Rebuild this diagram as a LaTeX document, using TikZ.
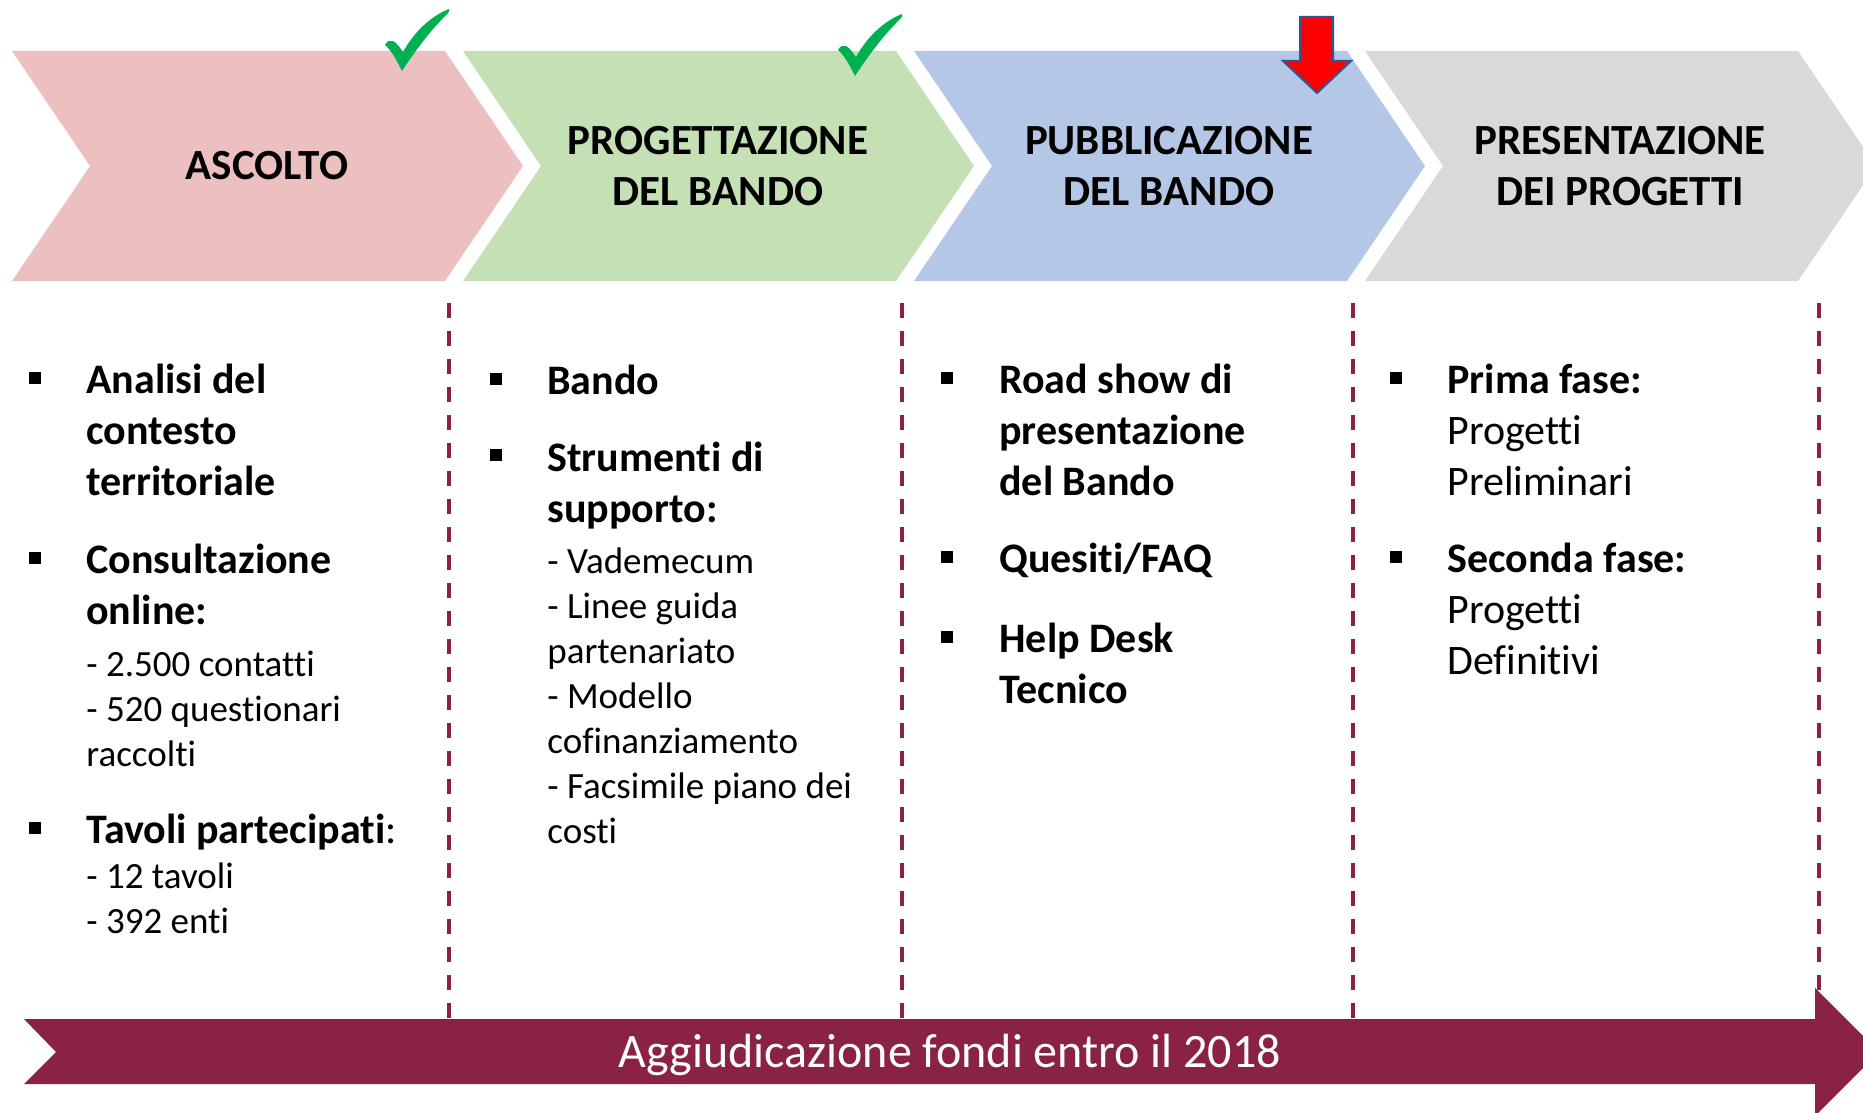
\documentclass[tikz,border=0pt]{standalone}
\usepackage{fontspec}
\setmainfont{Carlito}[Ligatures={NoCommon,NoContextual},Contextuals=NoAlternate]
\usepackage{tikz}
\usetikzlibrary{positioning,calc}
\definecolor{rosa}{HTML}{ECBFC1}
\definecolor{verde}{HTML}{C5E0B4}
\definecolor{azzurro}{HTML}{B4C7E7}
\definecolor{grigio}{HTML}{D9D9D9}
\definecolor{bordeaux}{HTML}{8A2244}
\definecolor{spunta}{HTML}{00B050}
\definecolor{blubordo}{HTML}{2F5597}
\tikzstyle{titolo}=[font=\fontsize{21.5}{25.5}\selectfont\bfseries,
                    align=center, inner sep=0pt]
\tikzstyle{voce}  =[font=\fontsize{21}{25.5}\selectfont, align=left,
                    inner sep=0pt, anchor=base west]
\tikzstyle{sotto} =[font=\fontsize{18.5}{22.5}\selectfont, align=left,
                    inner sep=0pt, anchor=base west]
\tikzstyle{quadro}=[fill=black, minimum size=6pt, inner sep=0pt]
\tikzstyle{divisore}=[draw=bordeaux, line width=1.65pt,
                    dash pattern=on 7.5pt off 6.5pt]
\tikzset{check/.pic={
    \fill[spunta] (-14,-25) .. controls (-12,-29) and (-9,-30) .. (-6,-29)
        .. controls (-2,-27) and (1,-22) .. (4,-18)
        .. controls (15,-38) and (32,-54) .. (50,-61)
        .. controls (51,-60) and (50,-58) .. (49,-57)
        .. controls (36,-44) and (22,-28) .. (3,1)
        .. controls (-2,-9) and (-7,-19) .. (-14,-25) -- cycle;}}

\begin{document}
\begin{tikzpicture}[x=0.5pt, y=-0.5pt]
            \clip (0,0) rectangle (1863,1113);
            \fill[white] (0,0) rectangle (1863,1113);
            % fasi
            \foreach \i/\col in {0/rosa,1/verde,2/azzurro,3/grigio}
                \fill[\col] ({12+451*\i},51) -- ++(433,0) -- ++(78,115)
                    -- ++(-78,115) -- ++(-433,0) -- ++(78,-115) -- cycle;
            \node[titolo] (asc) at (267,166) {ASCOLTO};
            \node[titolo] (prog) at (718,166) {PROGETTAZIONE\\DEL BANDO};
            \node[titolo] (pubb) at (1169,166) {PUBBLICAZIONE\\DEL BANDO};
            \node[titolo] (pres) at (1620,166) {PRESENTAZIONE\\DEI PROGETTI};
            \pic at (399,70) {check};
            \pic at (852,75) {check};
            \filldraw[fill=red, draw=blubordo, line width=1pt]
                (1300,17) -- (1333,17) -- (1333,61) -- (1351,61) -- (1317,93)
                -- (1283,61) -- (1300,61) -- cycle;

            % colonna 1 (nodes sit on their last baseline)
            \node[quadro] (q1) at (34.5,378) {};
            \node[voce] (analisi) at (86,495)
                {\textbf{Analisi del}\\\textbf{contesto}\\\textbf{territoriale}};
            \node[quadro] (q2) at (34.5,558) {};
            \node[voce] (consult) at (86,624)
                {\textbf{Consultazione}\\\textbf{online:}};
            \node[sotto] (contatti) at (86,766)
                {- 2.500 contatti\\- 520 questionari\\raccolti};
            \node[quadro] (q3) at (34.5,828) {};
            \node[voce] (tavoli) at (86,843) {\textbf{Tavoli partecipati}:};
            \node[sotto] (enti) at (86,933) {- 12 tavoli\\- 392 enti};

            % colonna 2
            \node[quadro] (q4) at (496,379) {};
            \node[voce] (bando) at (547,394) {\textbf{Bando}};
            \node[quadro] (q5) at (496,455) {};
            \node[voce] (strum) at (547,522)
                {\textbf{Strumenti di}\\\textbf{supporto:}};
            \node[sotto] (vade) at (547,843)
                {- Vademecum\\- Linee guida\\partenariato\\- Modello\\
                 cofinanziamento\\- Facsimile piano dei\\costi};

            % colonna 3
            \node[quadro] (q6) at (947,378) {};
            \node[voce] (road) at (999,495)
                {\textbf{Road show di}\\\textbf{presentazione}\\\textbf{del Bando}};
            \node[quadro] (q7) at (947,557) {};
            \node[voce] (faq) at (999,572) {\textbf{Quesiti/FAQ}};
            \node[quadro] (q8) at (947,637) {};
            \node[voce] (help) at (999,703)
                {\textbf{Help Desk}\\\textbf{Tecnico}};

            % colonna 4
            \node[quadro] (q9) at (1396,378) {};
            \node[voce] (prima) at (1447,495)
                {\textbf{Prima fase:}\\Progetti\\Preliminari};
            \node[quadro] (q10) at (1396,557) {};
            \node[voce] (seconda) at (1447,674)
                {\textbf{Seconda fase:}\\Progetti\\Definitivi};

            % divisori
            \foreach \x in {449,902,1353,1819}
                \draw[divisore] (\x,303) -- (\x,1019);

            % freccia finale
            \fill[bordeaux] (24,1019) -- (1815,1019) -- (1815,988) -- (1879,1052)
                -- (1815,1116) -- (1815,1084) -- (24,1084) -- (56,1052) -- cycle;
            \node[font=\fontsize{24}{28}\selectfont, text=white, inner sep=0pt,
                anchor=base] (fondi) at (950,1067)
                {Aggiudicazione fondi entro il 2018};

        \end{tikzpicture}
\end{document}
